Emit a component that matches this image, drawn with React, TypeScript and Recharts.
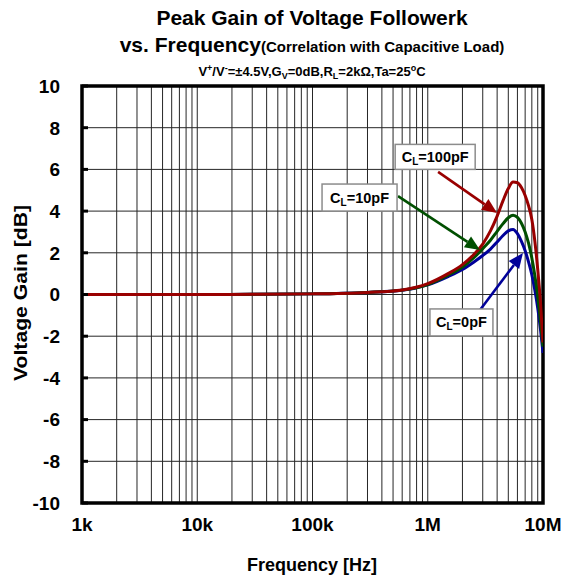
import React from 'react';
import {
  LineChart,
  Line,
  XAxis,
  YAxis,
  CartesianGrid,
  ReferenceArea,
  ReferenceDot,
  ReferenceLine,
} from 'recharts';

// ---- data ----
const frequencyHz = [
  1e3, 1e4, 3e4, 1e5, 3e5, 6e5, 1e6, 1.5e6, 2e6, 2.5e6, 3e6, 3.5e6, 4e6, 4.5e6,
  5e6, 5.5e6, 6e6, 6.5e6, 7e6, 7.5e6, 8e6, 8.5e6, 9e6, 9.5e6, 1e7,
];
const gainCL100 = [
  0, 0, 0.01, 0.03, 0.1, 0.22, 0.52, 1.0, 1.43, 1.91, 2.42, 3.05, 3.76, 4.5,
  5.08, 5.39, 5.36, 5.13, 4.75, 4.25, 3.6, 2.55, 1.2, -0.35, -2.3,
];
const gainCL10 = [
  0, 0, 0.01, 0.03, 0.1, 0.21, 0.48, 0.93, 1.32, 1.75, 2.2, 2.6, 3.03, 3.4,
  3.68, 3.8, 3.7, 3.42, 3.0, 2.45, 1.75, 0.9, -0.1, -1.25, -2.5,
];
const gainCL0 = [
  0, 0, 0.01, 0.03, 0.1, 0.2, 0.46, 0.86, 1.2, 1.55, 1.87, 2.18, 2.52, 2.83,
  3.05, 3.12, 2.92, 2.55, 2.1, 1.55, 0.95, 0.2, -0.65, -1.65, -2.8,
];

const decadeTicks = [1e3, 1e4, 1e5, 1e6, 1e7];
const decadeLabels = ['1k', '10k', '100k', '1M', '10M'];
const minorMultipliers = [1, 2, 3, 4, 5, 6, 7, 8, 9];
const yTicks = [-10, -8, -6, -4, -2, 0, 2, 4, 6, 8, 10];

// annotation anchors (frequency, dB)
const labelCL100 = { f: 1.16e6, g: 6.6 };
const labelCL10 = { f: 2.56e5, g: 4.65 };
const labelCL0 = { f: 1.96e6, g: -1.34 };
const arrowCL100 = [{ x: 1.23e6, y: 5.88 }, { x: 3.99e6, y: 3.91 }];
const arrowCL10 = [{ x: 5.52e5, y: 4.72 }, { x: 2.84e6, y: 2.13 }];
const arrowCL0 = [{ x: 2.84e6, y: -0.74 }, { x: 6.7e6, y: 1.99 }];

const RED = '#990000';
const GREEN = '#004f00';
const BLUE = '#000099';
const FONT = 'Arial, "Liberation Sans", Helvetica, sans-serif';

const rows = frequencyHz.map((f, i) => ({
  f,
  cl100: gainCL100[i],
  cl10: gainCL10[i],
  cl0: gainCL0[i],
}));

const gridTicks: number[] = [];
decadeTicks.slice(0, 4).forEach((d) =>
  minorMultipliers.forEach((m) => gridTicks.push(d * m))
);
gridTicks.push(1e7);

const fmtX = (v: number) => {
  const idx = decadeTicks.findIndex((d) => Math.abs(d - v) / d < 1e-6);
  return idx >= 0 ? decadeLabels[idx] : '';
};

const makeArrow = (color: string) => (props: any) => {
  const { x1, y1, x2, y2 } = props;
  const dx = x2 - x1;
  const dy = y2 - y1;
  const len = Math.sqrt(dx * dx + dy * dy) || 1;
  const ux = dx / len;
  const uy = dy / len;
  const headL = 15;
  const headW = 6.5;
  const bx = x2 - ux * headL;
  const by = y2 - uy * headL;
  const px = -uy;
  const py = ux;
  return (
    <g>
      <line x1={x1} y1={y1} x2={bx} y2={by} stroke={color} strokeWidth={2.6} />
      <polygon
        points={`${x2},${y2} ${bx + px * headW},${by + py * headW} ${bx - px * headW},${by - py * headW}`}
        fill={color}
      />
    </g>
  );
};

const makeBox = (value: string, w: number, h: number) => (props: any) => {
  const { cx, cy } = props;
  return (
    <g>
      <rect
        x={cx - w / 2}
        y={cy - h / 2}
        width={w}
        height={h}
        fill="#fff"
        stroke="#8c8c8c"
        strokeWidth={1.5}
      />
      <text
        x={cx}
        y={cy + 5}
        textAnchor="middle"
        fontFamily={FONT}
        fontWeight="bold"
        fontSize={14.5}
        fill="#000"
      >
        <tspan>C</tspan>
        <tspan fontSize={10} dy={3}>L</tspan>
        <tspan dy={-3}>{value}</tspan>
      </text>
    </g>
  );
};

const YTick = (props: any) => {
  const { x, y, payload } = props;
  return (
    <g>
      <text
        x={x}
        y={y}
        dy="0.36em"
        textAnchor="end"
        fontFamily={FONT}
        fontWeight="bold"
        fontSize={19}
        fill="#000"
      >
        {payload.value}
      </text>
      <line x1={x + 22} y1={y} x2={x + 28} y2={y} stroke="#000" strokeWidth={3} />
    </g>
  );
};

const XTick = (props: any) => {
  const { x, y, payload } = props;
  const label = fmtX(payload.value);
  if (!label) return <g />;
  return (
    <text
      x={x}
      y={y}
      dy="0.72em"
      textAnchor="middle"
      fontFamily={FONT}
      fontWeight="bold"
      fontSize={19}
      fill="#000"
    >
      {label}
    </text>
  );
};

export default function App() {
  return (
    <div
      style={{
        position: 'absolute',
        left: 0,
        top: 0,
        width: 575,
        height: 583,
        background: '#fff',
      }}
    >
      <LineChart
        width={575}
        height={583}
        data={rows}
        margin={{ top: 86, right: 32, bottom: 0, left: 0 }}
      >
        <CartesianGrid stroke="#262626" strokeWidth={1} />
        <XAxis
          dataKey="f"
          type="number"
          scale="log"
          domain={[1e3, 1e7]}
          ticks={gridTicks}
          interval={0}
          allowDataOverflow
          height={80}
          tickSize={0}
          tickMargin={14}
          axisLine={false}
          tick={<XTick />}
        />
        <YAxis
          type="number"
          domain={[-10, 10]}
          ticks={yTicks}
          interval={0}
          allowDataOverflow
          width={82}
          tickSize={0}
          tickMargin={22}
          axisLine={false}
          tick={<YTick />}
        />
        <Line
          type="monotone"
          dataKey="cl0"
          stroke={BLUE}
          strokeWidth={3}
          dot={false}
          isAnimationActive={false}
        />
        <Line
          type="monotone"
          dataKey="cl10"
          stroke={GREEN}
          strokeWidth={3}
          dot={false}
          isAnimationActive={false}
        />
        <Line
          type="monotone"
          dataKey="cl100"
          stroke={RED}
          strokeWidth={3}
          dot={false}
          isAnimationActive={false}
        />
        <ReferenceArea
          x1={1e3}
          x2={1e7}
          y1={-10}
          y2={10}
          fill="none"
          fillOpacity={0}
          stroke="#000"
          strokeWidth={3.5}
          ifOverflow="visible"
        />
        <ReferenceLine segment={arrowCL100} shape={makeArrow(RED)} ifOverflow="visible" />
        <ReferenceLine segment={arrowCL10} shape={makeArrow(GREEN)} ifOverflow="visible" />
        <ReferenceLine segment={arrowCL0} shape={makeArrow(BLUE)} ifOverflow="visible" />
        <ReferenceDot
          x={labelCL100.f}
          y={labelCL100.g}
          r={0}
          shape={makeBox('=100pF', 80, 25)}
          ifOverflow="visible"
        />
        <ReferenceDot
          x={labelCL10.f}
          y={labelCL10.g}
          r={0}
          shape={makeBox('=10pF', 75, 27)}
          ifOverflow="visible"
        />
        <ReferenceDot
          x={labelCL0.f}
          y={labelCL0.g}
          r={0}
          shape={makeBox('=0pF', 63, 27)}
          ifOverflow="visible"
        />
      </LineChart>
      <svg
        width={575}
        height={583}
        style={{ position: 'absolute', left: 0, top: 0, pointerEvents: 'none' }}
      >
        <g fontFamily={FONT} fontWeight="bold" fill="#000" textAnchor="middle">
          <text x={312} y={25} fontSize={21}>
            Peak Gain of Voltage Followerk
          </text>
          <text x={312} y={52}>
            <tspan fontSize={21}>vs. Frequency</tspan>
            <tspan fontSize={15}>(Correlation with Capacitive Load)</tspan>
          </text>
          <text x={312} y={76} fontSize={13}>
            <tspan>V</tspan>
            <tspan fontSize={9} dy={-5}>+</tspan>
            <tspan dy={5}>/V</tspan>
            <tspan fontSize={9} dy={-5}>-</tspan>
            <tspan dy={5}>=±4.5V,G</tspan>
            <tspan fontSize={9} dy={3}>V</tspan>
            <tspan dy={-3}>=0dB,R</tspan>
            <tspan fontSize={9} dy={3}>L</tspan>
            <tspan dy={-3}>=2kΩ,Ta=25</tspan>
            <tspan fontSize={9} dy={-5}>o</tspan>
            <tspan dy={5}>C</tspan>
          </text>
          <text x={312} y={571} fontSize={18}>
            Frequency [Hz]
          </text>
          <text
            x={0}
            y={0}
            fontSize={19}
            textLength={176}
            lengthAdjust="spacingAndGlyphs"
            transform="translate(27 293) rotate(-90)"
          >
            Voltage Gain [dB]
          </text>
        </g>
      </svg>
    </div>
  );
}
